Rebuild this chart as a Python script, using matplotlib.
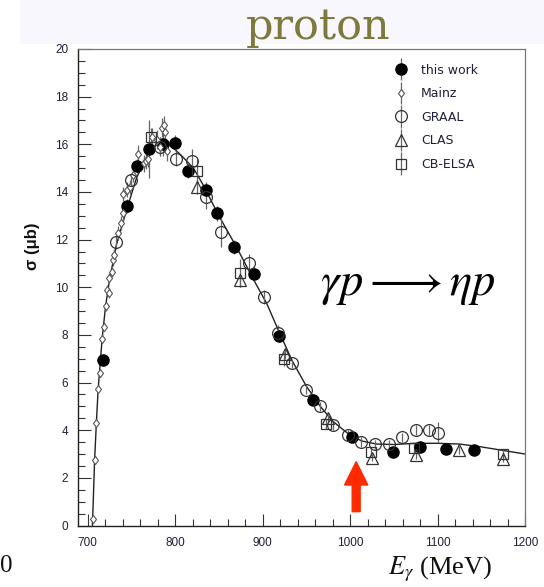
import matplotlib
matplotlib.use("Agg")
import matplotlib.pyplot as plt
from matplotlib.patches import Rectangle
from matplotlib.ticker import MultipleLocator
from matplotlib.legend_handler import HandlerErrorbar

# ---------------- data ----------------
this_E = [718, 745, 757, 770, 786, 800, 815, 835, 848, 867, 890, 919, 958, 1002, 1049, 1080, 1110, 1142]
this_s = [6.95, 13.4, 15.1, 15.8, 16.0, 16.05, 14.9, 14.1, 13.1, 11.7, 10.55, 7.95, 5.25, 3.72, 3.1, 3.3, 3.2, 3.17]
this_err = [0.25, 0.3, 0.3, 1.2, 0.5, 0.35, 0.3, 0.3, 0.3, 0.3, 0.3, 0.25, 0.2, 0.15, 0.15, 0.15, 0.15, 0.15]

mainz_E = [706, 708, 710, 712, 714, 716.6, 718.5, 720.5, 722, 724, 725, 727.5, 729.5, 730.5, 735, 738, 741, 741,
           745, 748.5, 752, 758, 764, 767, 769.5, 774, 779, 783, 785, 787, 789, 790.5]
mainz_s = [0.26, 2.75, 4.32, 5.73, 6.4, 7.84, 8.35, 9.2, 9.9, 9.75, 10.4, 10.66, 11.15, 11.36, 12.28, 12.7, 13.1, 13.9,
           14.1, 14.2, 14.7, 15.6, 15.2, 15.3, 15.4, 16.3, 16.2, 15.9, 16.7, 16.8, 16.5, 15.7]
mainz_err = [0.1, 0.15, 0.15, 0.15, 0.15, 0.2, 0.2, 0.2, 0.2, 0.2, 0.2, 0.25, 0.25, 0.25, 0.3, 0.3, 0.3, 0.3,
             0.3, 0.3, 0.3, 0.35, 0.35, 0.35, 0.35, 0.4, 0.4, 0.4, 0.4, 0.4, 0.4, 0.4]

graal_E = [733, 750, 783, 801, 819, 835, 852, 885, 902, 918, 934, 950, 966, 981, 998, 1013, 1029, 1044, 1059, 1075, 1090, 1101]
graal_s = [11.9, 14.5, 15.9, 15.4, 15.3, 13.8, 12.3, 11.0, 9.6, 8.1, 6.8, 5.7, 5.0, 4.2, 3.8, 3.5, 3.4, 3.4, 3.7, 4.0, 4.0, 3.9]
graal_err = [0.3, 0.3, 0.4, 0.3, 0.5, 0.5, 0.6, 0.4, 0.3, 0.3, 0.2, 0.2, 0.2, 0.2, 0.2, 0.2, 0.2, 0.2, 0.2, 0.2, 0.2, 0.45]

clas_E = [825, 874, 926, 975, 1025, 1075, 1125, 1175]
clas_s = [14.2, 10.3, 7.2, 4.5, 2.85, 2.95, 3.17, 2.8]
clas_err = [0.3, 0.3, 0.2, 0.2, 0.15, 0.15, 0.15, 0.15]

elsa_E = [773, 825, 874, 924, 973, 1024, 1073, 1175]
elsa_s = [16.3, 14.9, 10.6, 7.0, 4.25, 3.1, 3.25, 3.0]
elsa_err = [0.4, 0.5, 0.6, 0.3, 0.2, 0.2, 0.2, 0.2]

fit_E = [705.5, 708, 710, 712, 716.5, 720.5, 725, 733, 745, 756, 768, 778, 788, 798, 808, 821, 832, 850, 870,
         890, 905, 918, 934, 950, 966, 981, 998, 1013, 1030, 1050, 1075, 1100, 1125, 1150, 1175, 1200]
fit_s = [0.0, 2.75, 4.3, 5.7, 7.8, 9.2, 10.3, 11.8, 13.3, 14.6, 15.5, 15.95, 16.1, 15.85, 15.5, 15.0, 14.3, 13.0, 11.7,
         10.3, 9.3, 8.2, 6.9, 5.85, 5.0, 4.35, 3.85, 3.55, 3.42, 3.4, 3.45, 3.45, 3.42, 3.3, 3.15, 3.0]

legend_labels = ["this work", "Mainz", "GRAAL", "CLAS", "CB-ELSA"]
x_ticks = [700, 800, 900, 1000, 1100, 1200]
y_ticks = [0, 2, 4, 6, 8, 10, 12, 14, 16, 18, 20]

# ---------------- figure ----------------
W, H = 544, 587
fig = plt.figure(figsize=(W / 100, H / 100), dpi=100)
fig.patch.set_facecolor("white")

# light header band
fig.patches.append(Rectangle((20 / W, 1 - 44 / H), 1 - 20 / W, 44 / H, transform=fig.transFigure,
                             facecolor="#f7f7fd", edgecolor="none", zorder=0))

ax = fig.add_axes([78 / W, 1 - 525.5 / H, (525 - 78) / W, (525.5 - 49) / H])
ax.set_xlim(689, 1200)
ax.set_ylim(0, 20)

tc = "#1f1f3a"
ax.plot(fit_E, fit_s, color="#222222", lw=1.0, zorder=2)

eb_kw = dict(ecolor="#666666", elinewidth=0.9, capsize=0, linestyle="none", zorder=3)
h_this = ax.errorbar(this_E, this_s, yerr=this_err, fmt="o", ms=8, mfc="black", mec="black", **eb_kw)
h_mainz = ax.errorbar(mainz_E, mainz_s, yerr=mainz_err, fmt="d", ms=4.5, mfc="white", mec="#555555", mew=0.8, **eb_kw)
h_graal = ax.errorbar(graal_E, graal_s, yerr=graal_err, fmt="o", ms=8.5, mfc="none", mec="#333333", mew=0.9, **eb_kw)
h_clas = ax.errorbar(clas_E, clas_s, yerr=clas_err, fmt="^", ms=8, mfc="none", mec="#333333", mew=0.9, **eb_kw)
h_elsa = ax.errorbar(elsa_E, elsa_s, yerr=elsa_err, fmt="s", ms=7, mfc="none", mec="#333333", mew=0.9, **eb_kw)

leg = ax.legend([h_this, h_mainz, h_graal, h_clas, h_elsa], legend_labels, loc="upper left",
                bbox_to_anchor=(0.7, 0.98), frameon=False, fontsize=9, labelspacing=0.85,
                handlelength=0.8, handletextpad=1.2, borderaxespad=0,
                handler_map={type(h_this): HandlerErrorbar(yerr_size=0.9)})
for t in leg.get_texts():
    t.set_color(tc)

# ticks
ax.set_xticks(x_ticks)
ax.set_yticks(y_ticks)
ax.xaxis.set_minor_locator(MultipleLocator(20))
ax.yaxis.set_minor_locator(MultipleLocator(0.5))
ax.tick_params(which="both", direction="in", top=False, right=False, colors="#333333",
               labelcolor=tc, labelsize=8.5)
ax.tick_params(which="major", length=9, width=0.8)
ax.tick_params(which="minor", length=5, width=0.8)
ax.tick_params(axis="y", pad=7)
ax.tick_params(axis="x", pad=8)
for lab in ax.get_xticklabels() + ax.get_yticklabels():
    lab.set_family("Liberation Sans")
for s in ["left", "bottom"]:
    ax.spines[s].set_color("#222222")
    ax.spines[s].set_linewidth(1.0)
for s in ["top", "right"]:
    ax.spines[s].set_color("#777777")
    ax.spines[s].set_linewidth(0.9)

# y label
fig.text(33 / W, 1 - 246 / H, "σ (μb)", rotation=90, ha="center", va="center",
         fontsize=12, fontweight="bold", family="Liberation Sans", color="#111111")

# reaction text
ax.text(0.541, 0.484, r"$\gamma p \longrightarrow \eta p$", transform=ax.transAxes, fontsize=33.5,
        ha="left", va="baseline", color="black", math_fontfamily="stix")

# red arrow
ax.arrow(1007, 0.58, 0, 2.1, width=9.1, head_width=26.6, head_length=0.98,
         length_includes_head=True, color="#ff2a00", zorder=4)

# title
fig.text(318 / W, 1 - 39 / H, "proton", ha="center", va="baseline", fontsize=31,
         family="DejaVu Serif", color="#7d7a3c", zorder=5)

# x label
fig.text(440 / W, 1 - 574 / H, r"$E_\gamma$ (MeV)", ha="center", va="baseline", fontsize=19,
         family="Liberation Serif", math_fontfamily="stix", color="#111111")

# stray character at lower left
fig.text(0, 1 - 572 / H, "0", ha="left", va="baseline", fontsize=18,
         family="Liberation Serif", color="#111111")

fig.savefig("out.png", dpi=100)
